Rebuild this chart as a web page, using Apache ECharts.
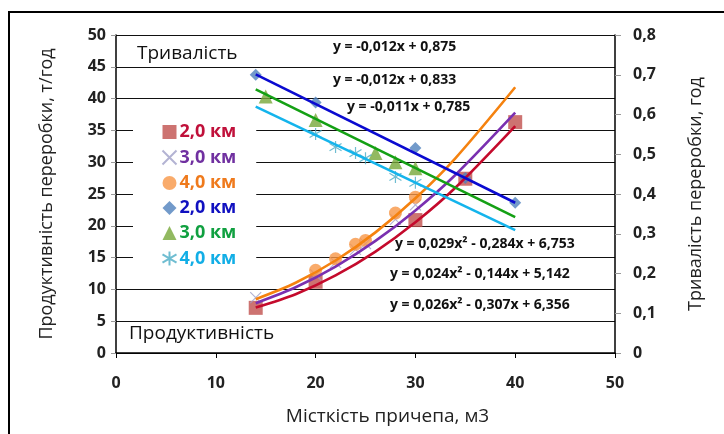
<!DOCTYPE html>
<html><head><meta charset="utf-8">
<script src="https://cdn.jsdelivr.net/npm/echarts@6/dist/echarts.min.js"></script>
<style>html,body{margin:0;padding:0;background:#fff}#c{width:724px;height:434px}</style>
</head><body><div id="c"></div>
<script>
// ---- data ----
var xTicks = [0, 10, 20, 30, 40, 50];
var legendNames = ['2,0 км', '3,0 км', '4,0 км', '2,0 км\u200b', '3,0 км\u200b', '4,0 км\u200b'];

// productivity, t/h (left axis)
var prod2 = [[14, 7.1], [20, 11.2], [30, 20.9], [35, 27.4], [40, 36.3]];
var prod3 = [[14, 8.7], [20, 12.3], [22, 14.2], [24, 16.3], [25, 17.2], [28, 21.0], [30, 23.3]];
var prod4 = [[20, 13.0], [22, 14.8], [24, 17.1], [25, 17.7], [28, 22.0], [30, 24.5]];
// duration, h (right axis)
var dur2 = [[14, 0.70], [20, 0.63], [30, 0.516], [35, 0.44], [40, 0.378]];
var dur3 = [[15, 0.645], [20, 0.586], [26, 0.503], [28, 0.48], [30, 0.465]];
var dur4 = [[20, 0.551], [22, 0.518], [24, 0.503], [25, 0.49], [28, 0.443], [30, 0.428]];

// trend lines
var trendProd2 = [[14, 7.15], [18, 9.25], [22, 12.19], [26, 15.95], [30, 20.55], [34, 25.98], [40, 35.68]];
var trendProd3 = [[14, 7.83], [18, 10.33], [22, 13.59], [26, 17.62], [30, 22.42], [34, 27.99], [40, 37.78]];
var trendProd4 = [[14, 8.46], [18, 11.04], [22, 14.54], [26, 18.97], [30, 24.33], [34, 30.62], [40, 41.79]];
var trendDur2 = [[14, 0.701], [40, 0.378]];
var trendDur3 = [[14, 0.663], [40, 0.342]];
var trendDur4 = [[14, 0.620], [40, 0.309]];

var eqDur = ['y = -0,012x + 0,875', 'y = -0,012x + 0,833', 'y = -0,011x + 0,785'];
var eqProd = ['y = 0,029x\u00b2 - 0,284x + 6,753', 'y = 0,024x\u00b2 - 0,144x + 5,142', 'y = 0,026x\u00b2 - 0,307x + 6,356'];

var FONT = 'Open Sans';
var X_PATH = 'path://M0,0L10,10M10,0L0,10';
var STAR_PATH = 'path://M0,2L10,8M10,2L0,8M5,0L5,10';

var chart = echarts.init(document.getElementById('c'));

function scatter(name, data, yIdx, symbol, size, color, stroke) {
  var s = {
    name: name, type: 'scatter', data: data, yAxisIndex: yIdx,
    symbol: symbol, symbolSize: size, z: 2,
    itemStyle: { color: color }
  };
  if (stroke) {
    s.itemStyle = { color: 'none', borderColor: color, borderWidth: 1.2 };
  }
  return s;
}
function trend(data, yIdx, color, smooth) {
  return {
    type: 'line', data: data, yAxisIndex: yIdx, symbol: 'none', smooth: smooth ? 0.3 : false,
    lineStyle: { color: color, width: 2.6 }, z: 3, silent: true
  };
}

var eqGraphics = [];
var eqDurPos = [[333, 50], [333, 83], [347, 110]];
var eqProdPos = [[395, 247], [390, 277], [390, 308]];
var EQFONT = 'bold 14px "' + FONT + '"';
eqDur.forEach(function (t, i) {
  eqGraphics.push({ type: 'text', left: eqDurPos[i][0], top: eqDurPos[i][1] - 10,
    style: { text: t, font: EQFONT, fill: '#111' } });
});
eqProd.forEach(function (t, i) {
  eqGraphics.push({ type: 'text', left: eqProdPos[i][0], top: eqProdPos[i][1] - 10,
    style: { text: t, font: EQFONT, fill: '#111' } });
});

chart.setOption({
  animation: false,
  backgroundColor: '#fff',
  grid: { left: 116, right: 109, top: 35, bottom: 81 },
  textStyle: { fontFamily: FONT },
  xAxis: {
    type: 'value', min: 0, max: 50, interval: 10,
    name: 'Місткість причепа, м3', nameLocation: 'middle', nameGap: 54,
    nameTextStyle: { fontSize: 19, color: '#222', fontFamily: FONT, padding: [0, 0, 0, 44] },
    axisLine: { lineStyle: { color: '#000', width: 1.5 } },
    axisTick: { show: true, length: 5, lineStyle: { color: '#000' } },
    axisLabel: { fontSize: 16, fontWeight: 'bold', color: '#222', margin: 22, fontFamily: FONT,
      formatter: function (v) { return xTicks.indexOf(v) >= 0 ? String(v) : ''; } },
    splitLine: { show: false }
  },
  yAxis: [{
    type: 'value', min: 0, max: 50, interval: 5,
    name: 'Продуктивність переробки, т/год', nameLocation: 'middle', nameGap: 60,
    nameTextStyle: { fontSize: 18, color: '#222', fontFamily: FONT },
    axisLine: { show: true, lineStyle: { color: '#000', width: 1.5 } },
    axisTick: { show: true, length: 5, lineStyle: { color: '#999' } },
    axisLabel: { fontSize: 16, fontWeight: 'bold', color: '#222', margin: 10, fontFamily: FONT },
    splitLine: { show: true, lineStyle: { color: '#111', width: 1 } }
  }, {
    type: 'value', min: 0, max: 0.8, interval: 0.1, position: 'right',
    name: 'Тривалість переробки, год', nameLocation: 'middle', nameGap: 72, nameRotate: 90,
    nameTextStyle: { fontSize: 18, color: '#222', fontFamily: FONT },
    axisLine: { show: true, lineStyle: { color: '#000', width: 1.5 } },
    axisTick: { show: true, length: 6, lineStyle: { color: '#999' } },
    axisLabel: { fontSize: 16, fontWeight: 'bold', color: '#222', margin: 18, fontFamily: FONT,
      formatter: function (v) { return v === 0 ? '0' : v.toFixed(1).replace('.', ','); } },
    splitLine: { show: false }
  }],
  legend: {
    orient: 'vertical', left: 133, top: 115,
    backgroundColor: '#fff', padding: [8, 20, 6, 27],
    itemGap: 7, itemWidth: 14, itemHeight: 14,
    textStyle: { fontSize: 18, fontWeight: 'bold', fontFamily: FONT, padding: [0, 0, 0, -2] },
    data: [
      { name: legendNames[0], textStyle: { color: '#c0103a' } },
      { name: legendNames[1], textStyle: { color: '#7030a0' } },
      { name: legendNames[2], textStyle: { color: '#ef7a1c' } },
      { name: legendNames[3], textStyle: { color: '#1010c0' } },
      { name: legendNames[4], textStyle: { color: '#10a040' } },
      { name: legendNames[5], textStyle: { color: '#12aee6' } }
    ]
  },
  graphic: [
    { type: 'rect', shape: { x: 9, y: 12, width: 740, height: 440 },
      style: { fill: 'none', stroke: '#000', lineWidth: 2 }, silent: true },
    { type: 'text', left: 137, top: 44, style: { text: 'Тривалість', font: '19px "' + FONT + '"', fill: '#111' } },
    { type: 'text', left: 129, top: 324, style: { text: 'Продуктивність', font: '19px "' + FONT + '"', fill: '#111' } }
  ].concat(eqGraphics),
  series: [
    scatter(legendNames[0], prod2, 0, 'rect', 14, '#c0504d'),
    scatter(legendNames[1], prod3, 0, X_PATH, 11, '#a0a0c8', true),
    scatter(legendNames[2], prod4, 0, 'circle', 13, '#f79646'),
    scatter(legendNames[3], dur2, 1, 'diamond', 12, '#4f81bd'),
    scatter(legendNames[4], dur3, 1, 'triangle', 14, '#77a83a'),
    scatter(legendNames[5], dur4, 1, STAR_PATH, 12, '#4bacc6', true),
    trend(trendProd2, 0, '#c40a2c', true),
    trend(trendProd3, 0, '#7a30b0', true),
    trend(trendProd4, 0, '#f5820f', true),
    trend(trendDur2, 1, '#0a0ad0', false),
    trend(trendDur3, 1, '#14a014', false),
    trend(trendDur4, 1, '#14b4ec', false)
  ]
});
</script></body></html>
